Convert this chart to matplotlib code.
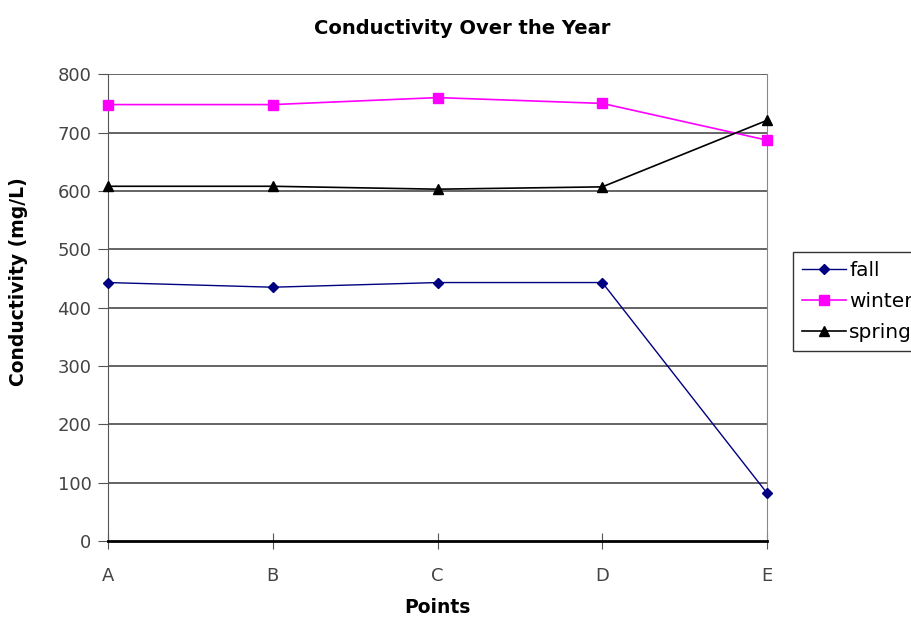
import matplotlib.pyplot as plt

# conductivity readings at each sampling point
points = ['A', 'B', 'C', 'D', 'E']
fall = [443, 435, 443, 443, 82]
winter = [748, 748, 760, 750, 687]
spring = [608, 608, 603, 607, 721]
y_ticks = [0, 100, 200, 300, 400, 500, 600, 700, 800]

plt.rcParams['font.family'] = ['DejaVu Sans']

fig = plt.figure(figsize=(9.11, 6.24), dpi=100)
ax = fig.add_axes([0.1186, 0.133, 0.7234, 0.748])

x = range(len(points))
for yv in y_ticks[1:]:
    ax.axhline(yv, color='#3a3a3a', lw=1.1, zorder=1)

ax.plot(x, fall, color='#000080', lw=1, marker='D', ms=5, label='fall', zorder=3, clip_on=False)
ax.plot(x, winter, color='#ff00ff', lw=1.2, marker='s', ms=7, label='winter', zorder=3, clip_on=False)
ax.plot(x, spring, color='black', lw=1.2, marker='^', ms=7, label='spring', zorder=3, clip_on=False)

ax.set_xlim(0, len(points) - 1)
ax.set_ylim(0, 800)
ax.set_xticks(list(x))
ax.set_xticklabels(points)
ax.set_yticks(y_ticks)

ax.spines['top'].set_visible(False)
ax.spines['right'].set_color('#888888')
ax.spines['left'].set_color('#555555')
ax.spines['bottom'].set_color('black')
ax.spines['bottom'].set_linewidth(2)

ax.tick_params(axis='y', direction='out', length=7, color='#555555', labelsize=13, labelcolor='#444444', pad=5)
ax.tick_params(axis='x', direction='inout', length=12, color='#555555', labelsize=13, labelcolor='#444444', pad=13)

fig.text(462 / 911, 1 - 28 / 624, 'Conductivity Over the Year', fontsize=14, fontweight='bold',
         ha='center', va='center')
ax.set_xlabel('Points', fontsize=13.5, fontweight='bold', labelpad=9)
ax.set_ylabel('Conductivity (mg/L)', fontsize=13.5, fontweight='bold')
ax.yaxis.set_label_coords(-0.121, 0.555)

leg = fig.legend(loc='upper left', bbox_to_anchor=(793 / 911, 1 - 252 / 624), fontsize=14.5,
                 frameon=True, fancybox=False, edgecolor='black', handlelength=2.2,
                 handletextpad=0.15, borderpad=0.45, labelspacing=0.6, borderaxespad=0)
leg.get_frame().set_linewidth(1)

fig.savefig('out.png', dpi=100)
